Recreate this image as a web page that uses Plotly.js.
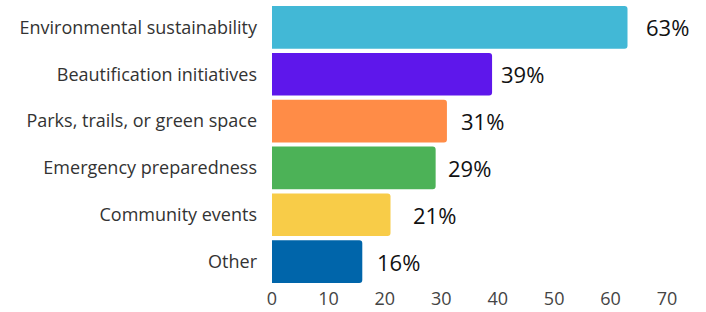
<!DOCTYPE html>
<html>
<head>
<meta charset="utf-8">
<script src="https://cdn.plot.ly/plotly-3.0.1.min.js"></script>
<style>html,body{margin:0;padding:0;background:#fff;}#chart{width:706px;height:312px;}</style>
</head>
<body>
<div id="chart"></div>
<script>
const categories = ["Environmental sustainability","Beautification initiatives","Parks, trails, or green space","Emergency preparedness","Community events","Other"];
const values = [63, 39, 31, 29, 21, 16];
const valueLabels = ["63%","39%","31%","29%","21%","16%"];
const barColors = ["#42B8D6","#5E17EB","#FF8C47","#4CB257","#F8CC48","#0065AA"];
const labelShift = [40, 30, 36, 34, 44, 36];
const xTicks = [0,10,20,30,40,50,60,70];

const trace = {
  type: 'bar',
  orientation: 'h',
  x: values,
  y: categories,
  marker: {color: barColors, line: {width: 0}},
  hoverinfo: 'none'
};

const annotations = values.map((v, i) => ({
  x: v, y: categories[i], xref: 'x', yref: 'y',
  text: valueLabels[i], showarrow: false, xanchor: 'center', yanchor: 'middle',
  xshift: labelShift[i],
  font: {family: 'Open Sans, sans-serif', size: 22, color: '#111'}
}));

const layout = {
  width: 706, height: 312,
  margin: {l: 272, r: 39, t: 4, b: 27, pad: 0},
  paper_bgcolor: '#fff', plot_bgcolor: '#fff',
  showlegend: false,
  bargap: 0.09,
  barcornerradius: 3,
  font: {family: 'Open Sans, sans-serif'},
  xaxis: {
    range: [0, 70], tickvals: xTicks, ticktext: xTicks.map(String),
    showgrid: false, zeroline: false, showline: false, ticks: '',
    tickfont: {family: 'Open Sans, sans-serif', size: 18, color: '#444'},
    ticklabelstandoff: 1, fixedrange: true
  },
  yaxis: {
    autorange: 'reversed', showgrid: false, zeroline: false, showline: false, ticks: '',
    tickfont: {family: 'Open Sans, sans-serif', size: 18, color: '#333'},
    ticklabelstandoff: 14, fixedrange: true
  },
  annotations: annotations
};

Plotly.newPlot('chart', [trace], layout, {staticPlot: true, displayModeBar: false});
</script>
</body>
</html>
